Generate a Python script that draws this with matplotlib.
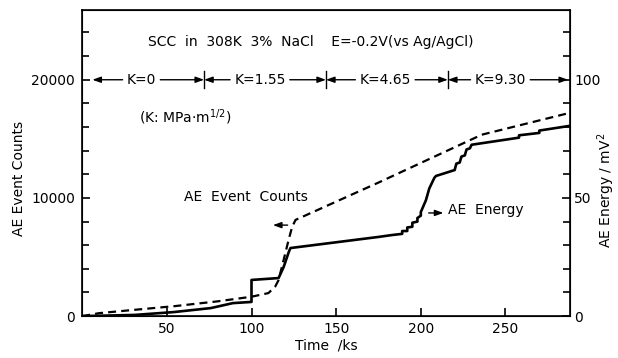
import numpy as np
import matplotlib
matplotlib.use('Agg')
import matplotlib.pyplot as plt
from matplotlib.ticker import MultipleLocator

plt.rcParams['font.family'] = ['DejaVu Sans']
plt.rcParams['font.size'] = 10

# AE event counts (dashed, left axis)
count_time = [0, 10, 30, 55, 80, 100, 110, 114, 116, 118, 120, 122, 124, 126, 175, 236, 288]
count_vals = [0, 250, 520, 850, 1250, 1640, 1950, 2500, 3050, 4200, 5340, 6500, 7540, 8140,
              11300, 15350, 17200]

# AE energy (solid, right axis, mV^2)
energy_time = [0, 31, 54, 76, 89, 100, 100, 116, 119, 122, 123, 175, 183, 189, 189, 192, 192,
               195, 195, 198, 198, 200, 200, 203, 205, 208, 209, 220, 221, 223, 224, 226, 227,
               229, 230, 258, 258, 270, 270, 288]
energy_vals = [0, 0.5, 1.7, 3.4, 5.5, 6.0, 15.3, 16.1, 20.8, 27.1, 28.8, 33.5, 34.3, 34.8, 36.0,
               36.0, 37.5, 37.8, 39.5, 40.0, 41.5, 42.5, 44.0, 49.0, 54.0, 58.5, 59.3, 61.8, 64.5,
               65.0, 67.5, 68.0, 70.5, 71.0, 72.5, 75.5, 76.5, 77.5, 78.5, 80.5]

# stress intensity segments
k_labels = ['K=0', 'K=1.55', 'K=4.65', 'K=9.30']
k_bounds = [6, 72, 144, 216, 287]
k_centers = [35, 105, 179, 247]

fig = plt.figure(figsize=(6.18, 3.58), dpi=100)
ax = fig.add_axes([0.133, 0.117, 0.789, 0.855])
ax2 = ax.twinx()

ymax = 25900
ax.set_xlim(0, 288)
ax.set_ylim(0, ymax)
ax2.set_ylim(0, ymax / 200)

ax.plot(count_time, count_vals, color='black', lw=1.6, dashes=(3.6, 2.3))
ax2.plot(energy_time, energy_vals, color='black', lw=1.9)

ax.yaxis.set_major_locator(MultipleLocator(10000))
ax.yaxis.set_minor_locator(MultipleLocator(2000))
ax2.yaxis.set_major_locator(MultipleLocator(50))
ax2.yaxis.set_minor_locator(MultipleLocator(10))
ax.set_xticks([50, 100, 150, 200, 250])

ax.tick_params(axis='both', which='both', direction='in', width=1.2)
ax.tick_params(axis='both', which='major', length=6)
ax.tick_params(axis='y', which='minor', length=5)
ax.tick_params(axis='y', pad=5)
ax.tick_params(axis='x', pad=4)
ax2.tick_params(axis='y', which='both', direction='in', width=1.2, pad=3)
ax2.tick_params(axis='y', which='major', length=6)
ax2.tick_params(axis='y', which='minor', length=5)
for sp in ax.spines.values():
    sp.set_linewidth(1.2)

ax.set_xlabel('Time  /ks', labelpad=2)
ax.set_ylabel('AE Event Counts')
ax.yaxis.set_label_coords(-0.115, 0.45)
ax2.set_ylabel('AE Energy / mV$^2$')
ax2.yaxis.set_label_coords(1.052, 0.41)

ax.text(135, 23200, 'SCC  in  308K  3%  NaCl    E=-0.2V(vs Ag/AgCl)', ha='center', va='center')
ax.text(61, 16800, r'(K: MPa$\cdot$m$^{1/2}$)', ha='center', va='center')

ky = 20000
ap = dict(arrowstyle='-|>,head_length=0.5,head_width=0.18', color='black', lw=1,
          shrinkA=1, shrinkB=0)
for i, lab in enumerate(k_labels):
    ax.annotate(lab, xy=(k_bounds[i], ky), xytext=(k_centers[i], ky), ha='center',
                va='center', arrowprops=ap)
    ax.annotate(lab, xy=(k_bounds[i + 1], ky), xytext=(k_centers[i], ky), ha='center',
                va='center', color='none', arrowprops=ap)
for b in k_bounds[1:-1]:
    ax.plot([b, b], [ky - 700, ky + 700], color='black', lw=1)

ax.text(97, 10100, 'AE  Event  Counts', ha='center', va='center')
ax.annotate('', xy=(111, 7700), xytext=(123, 7700),
            arrowprops=dict(arrowstyle='-|>,head_length=0.5,head_width=0.18', color='black', lw=1))
ax.text(216, 8980, 'AE  Energy', ha='left', va='center')
ax.annotate('', xy=(215, 8730), xytext=(203, 8730),
            arrowprops=dict(arrowstyle='-|>,head_length=0.5,head_width=0.18', color='black', lw=1))

fig.savefig('out.png', dpi=100)
